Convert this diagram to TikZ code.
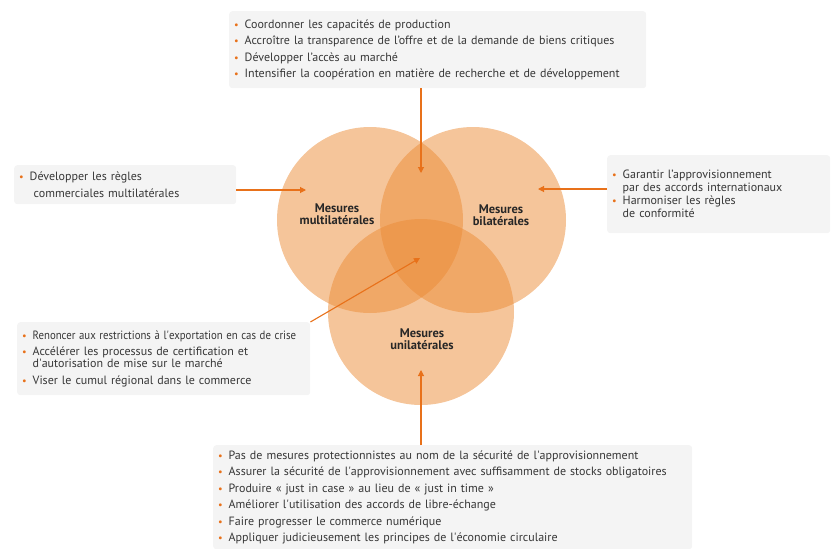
\documentclass[tikz,border=0pt]{standalone}
\usepackage{fontspec}
\setmainfont{PT Sans}
\usetikzlibrary{arrows.meta}
\definecolor{venn}{RGB}{235,139,53}
\definecolor{accent}{RGB}{232,113,26}
\definecolor{panelgray}{RGB}{244,244,244}
\definecolor{ink}{RGB}{55,55,55}
\newcommand\blt{\makebox[10.5pt][l]{\textcolor{accent}{\scalebox{0.85}{\textbullet}}}}
\newcommand\cnt{\hspace*{10.5pt}}
\tikzset{
  measure/.style={circle, minimum size=186pt, inner sep=0pt, fill=venn, fill opacity=0.5},
  measure_name/.style={font=\bfseries\fontsize{12.5}{12.5}\selectfont, text=ink!70!black, align=center},
  panel/.style={fill=panelgray, rounded corners=3pt, anchor=north west, align=left,
    inner xsep=5pt, inner ysep=0pt, text=ink, font=\fontsize{12}{16.5}\selectfont},
  pointer/.style={draw=accent, line width=1.1pt, -{Triangle[width=6pt,length=6pt]}},
}
\begin{document}
\begin{tikzpicture}[x=1pt, y=-1pt]
  \useasboundingbox (0,0) rectangle (831,549);
  % the three circles
  \node (multi) [measure] at (370,220) {};
  \node (bi) [measure] at (473,220) {};
  \node (uni) [measure] at (421,312) {};
  \node [measure_name] at (337,214) {Mesures\\multilatérales};
  \node [measure_name] at (501,215) {Mesures\\bilatérales};
  \node [measure_name] at (422,339) {Mesures\\unilatérales};
  % arrow tips
  \coordinate (toptip) at (421,173);
  \coordinate (lefttip) at (306,190);
  \coordinate (righttip) at (538,189);
  \coordinate (centretip) at (420,258);
  \coordinate (bottomtip) at (421,370);
  % panels
  \node (toppanel) [panel, text width=407pt, minimum height=77pt] at (229,11) {%
    \blt Coordonner les capacités de production\\
    \blt Accroître la transparence de l’offre et de la demande de biens critiques\\
    \blt Développer l’accès au marché\\
    \blt Intensifier la coopération en matière de recherche et de développement};
  \node (leftpanel) [panel, text width=212pt, minimum height=39pt] at (14,165) {%
    \blt Développer les règles\\
    \cnt\ commerciales multilatérales};
  \node (rightpanel) [panel, text width=213pt, minimum height=78pt,
    font=\fontsize{12}{13}\selectfont] at (607,155) {%
    \blt Garantir l’approvisionnement\\
    \cnt par des accords internationaux\\
    \blt Harmoniser les règles\\
    \cnt de conformité\\[4pt]};
  \node (crisispanel) [panel, text width=283pt, minimum height=73pt] at (17,322) {%
    \blt \scalebox{0.9}[1]{Renoncer aux restrictions à l\textquotesingle exportation en cas de crise}\\
    \blt Accélérer les processus de certification et\\[-4.5pt]
    \cnt d\textquotesingle autorisation de mise sur le marché\\
    \blt Viser le cumul régional dans le commerce};
  \node (bottompanel) [panel, text width=469pt, minimum height=104pt] at (213,445) {%
    \blt Pas de mesures protectionnistes au nom de la sécurité de l\textquotesingle approvisionnement\\
    \blt Assurer la sécurité de l\textquotesingle approvisionnement avec suffisamment de stocks obligatoires\\
    \blt Produire « just in case » au lieu de « just in time »\\
    \blt Améliorer l\textquotesingle utilisation des accords de libre-échange\\
    \blt Faire progresser le commerce numérique\\
    \blt Appliquer judicieusement les principes de l\textquotesingle économie circulaire};
  % arrows
  \draw [pointer] (toptip |- toppanel.south) -- (toptip);
  \draw [pointer] (lefttip -| leftpanel.east) -- (lefttip);
  \draw [pointer] (righttip -| rightpanel.west) -- (righttip);
  \draw [pointer] (crisispanel.north east) -- (centretip);
  \draw [pointer] (bottomtip |- bottompanel.north) -- (bottomtip);
\end{tikzpicture}
\end{document}
